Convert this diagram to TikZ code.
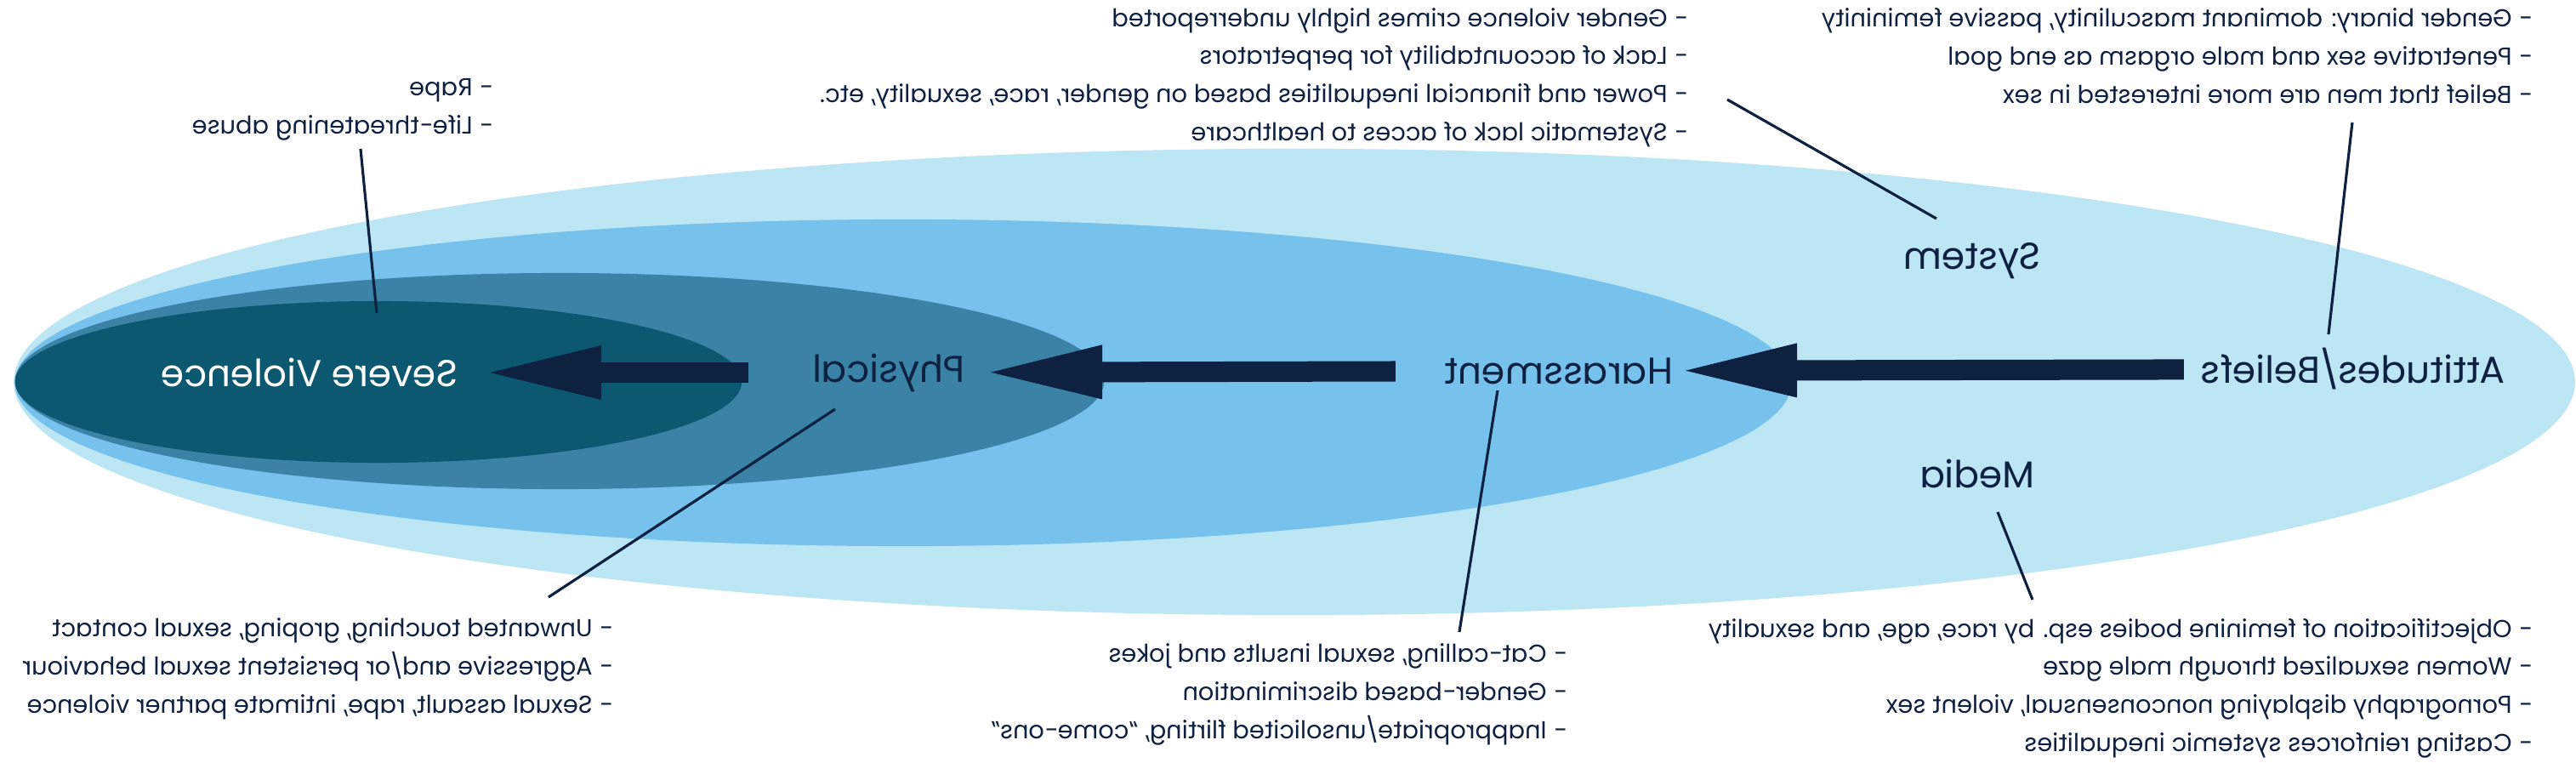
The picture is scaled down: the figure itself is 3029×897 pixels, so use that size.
\documentclass[tikz,border=0pt]{standalone}
\usepackage{fontspec}
\setmainfont{Poppins}
\usetikzlibrary{arrows.meta}
\definecolor{navy}{HTML}{0E2141}
\definecolor{skyA}{HTML}{BDE6F5}
\definecolor{skyB}{HTML}{77C2EC}
\definecolor{tealC}{HTML}{3A83A6}
\definecolor{tealD}{HTML}{0C5871}

\begin{document}
\begin{tikzpicture}[x=0.01cm,y=-0.01cm,xscale=-1,
   every node/.style={transform shape,text=navy,inner sep=0pt},
   lvl/.style={font=\fontsize{12.5}{15}\selectfont},
   lst/.style={font=\fontsize{8.2}{12.7}\selectfont,align=left,anchor=base west},
   push/.style={navy,line width=0.24cm,-{Triangle[length=1.43cm,width=0.56cm]}},
   lead/.style={navy,line width=0.9pt}]
  \useasboundingbox (0,0) rectangle (3029,897);
  % nested levels
  \fill[skyA] (1507,449) ellipse [x radius=15.05cm, y radius=2.74cm];
  \fill[skyB] (1967,450) ellipse [x radius=10.44cm, y radius=1.92cm];
  \fill[tealC] (2371,448) ellipse [x radius=6.40cm, y radius=1.27cm];
  \fill[tealD] (2584,449) ellipse [x radius=4.27cm, y radius=0.95cm];
  % level names
  \node[lvl] (beliefs) at (262,434) {Attitudes/Beliefs};
  \node[lvl] (harass) at (1196,436) {Harassment};
  \node[lvl] (physical) at (1984,438) {Physical};
  \node[lvl,text=white] (severe) at (2665,438) {Severe Violence};
  \node[lvl] (system) at (710,307) {System};
  \node[lvl] (media) at (704,557) {Media};
  \draw[push,shorten <=1.99cm,shorten >=1.37cm] (beliefs.center) -- (harass.center);
  \draw[push,shorten <=1.92cm,shorten >=1.08cm] (harass.center) -- (physical.center);
  \draw[push,shorten <=1.65cm,shorten >=2.00cm] (physical.center) -- (severe.center);
  % examples (placed by the baseline of their last line)
  \node[lst] (belList) at (51,121) {- Gender binary: dominant masculinity, passive femininity\\- Penetrative sex and male orgasm as end goal\\- Belief that men are more interested in sex};
  \node[lst] (sysList) at (1044,165) {- Gender violence crimes highly underreported\\- Lack of accountability for perpetrators\\- Power and financial inequalities based on gender, race, sexuality, etc.\\- Systematic lack of acces to healthcare};
  \node[lst] (rapeList) at (2449,157) {- Rape\\- Life-threatening abuse};
  \node[lst] (medList) at (51,883) {- Objectification of feminine bodies esp. by race, age, and sexuality\\- Women sexualized through male gaze\\- Pornography displaying nonconsensual, violent sex\\- Casting reinforces systemic inequalities};
  \node[lst] (harList) at (1186,868) {- Cat-calling, sexual insults and jokes\\- Gender-based discrimination\\- Inappropriate/unsolicited flirting, “come-ons”};
  \node[lst] (physList) at (2308,838) {- Unwanted touching, groping, sexual contact\\- Aggressive and/or persistent sexual behaviour\\- Sexual assault, rape, intimate partner violence};
  % leaders
  \coordinate (belA) at (263,144);  \coordinate (belB) at (291,393);
  \coordinate (sysA) at (998,117);  \coordinate (sysB) at (752,257);
  \coordinate (sevA) at (2605,175); \coordinate (sevB) at (2586,368);
  \coordinate (medA) at (680,602);  \coordinate (medB) at (639,705);
  \coordinate (harA) at (1268,459); \coordinate (harB) at (1313,743);
  \coordinate (phyA) at (2047,481); \coordinate (phyB) at (2384,702);
  \draw[lead] (belA) -- (belB);
  \draw[lead] (sysA) -- (sysB);
  \draw[lead] (sevA) -- (sevB);
  \draw[lead] (medA) -- (medB);
  \draw[lead] (harA) -- (harB);
  \draw[lead] (phyA) -- (phyB);
\end{tikzpicture}
\end{document}
